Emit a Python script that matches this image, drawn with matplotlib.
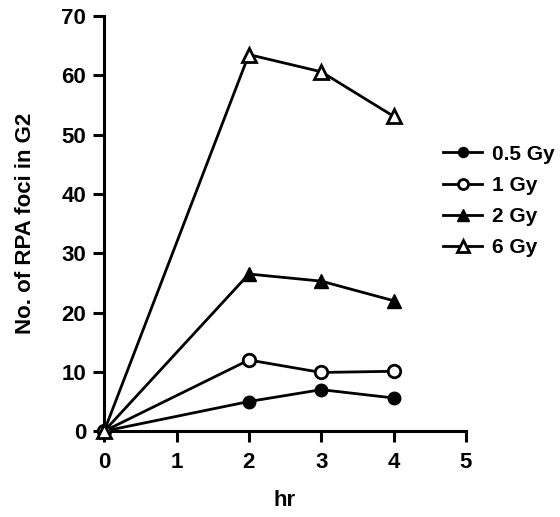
import matplotlib
matplotlib.use("Agg")
import matplotlib.pyplot as plt

plt.rcParams['font.family'] = ['Liberation Sans', 'DejaVu Sans']
plt.rcParams['font.weight'] = 'bold'

hours = [0, 2, 3, 4]
gy05 = [0, 5.0, 7.0, 5.6]
gy1 = [0, 12.0, 9.9, 10.1]
gy2 = [0, 26.5, 25.3, 22.0]
gy6 = [0, 63.5, 60.6, 53.1]
labels = ['0.5 Gy', '1 Gy', '2 Gy', '6 Gy']

fig = plt.figure(figsize=(5.6, 5.17), dpi=100)
ax = fig.add_axes([0.186, 0.166, 0.646, 0.803])

lw = 2.0
ax.plot(hours, gy05, color='black', lw=lw, marker='o', ms=9, mfc='black', mec='black', label=labels[0], clip_on=False, zorder=3)
ax.plot(hours, gy1, color='black', lw=lw, marker='o', ms=9, mfc='white', mec='black', mew=2.0, label=labels[1], clip_on=False, zorder=3)
ax.plot(hours, gy2, color='black', lw=lw, marker='^', ms=10, mfc='black', mec='black', label=labels[2], clip_on=False, zorder=3)
ax.plot(hours, gy6, color='black', lw=lw, marker='^', ms=10, mfc='white', mec='black', mew=2.0, label=labels[3], clip_on=False, zorder=3)

ax.set_xlim(0, 5)
ax.set_ylim(0, 70)
ax.set_xticks(range(0, 6))
ax.set_yticks(range(0, 71, 10))
for s in ['top', 'right']:
    ax.spines[s].set_visible(False)
for s in ['left', 'bottom']:
    ax.spines[s].set_linewidth(2.2)
ax.tick_params(direction='out', length=8, width=2.2, labelsize=16)
ax.tick_params(axis='x', pad=7)
ax.tick_params(axis='y', pad=5)
for t in ax.get_xticklabels() + ax.get_yticklabels():
    t.set_fontweight('bold')

ax.set_xlabel('hr', fontsize=16, fontweight='bold', labelpad=12)
ax.set_ylabel('No. of RPA foci in G2', fontsize=16, fontweight='bold', labelpad=18)

leg = ax.legend(loc='upper left', bbox_to_anchor=(0.936, 0.69), frameon=False,
                handlelength=1.9, handletextpad=0.45, labelspacing=0.58,
                borderaxespad=0, borderpad=0, markerscale=0.8,
                prop={'weight': 'bold', 'size': 15})

fig.savefig('out.png', dpi=100)
